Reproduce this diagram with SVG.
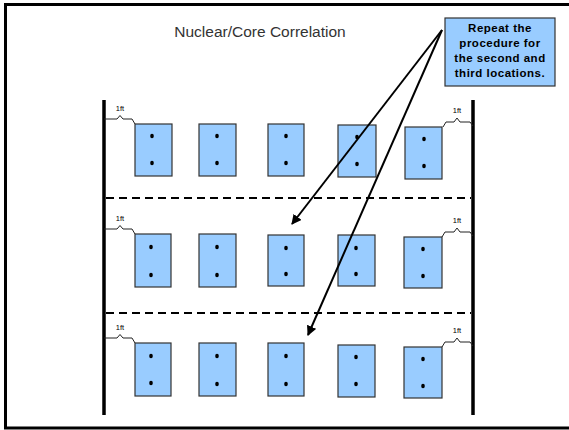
<svg xmlns="http://www.w3.org/2000/svg" width="569" height="430" viewBox="0 0 569 430">
<style>
.core{fill:#99CCFF;stroke:#333;stroke-width:1.2}
.dot{fill:#000}
.wall{stroke:#000;stroke-width:3.5;fill:none}
.dash{stroke:#000;stroke-width:2;stroke-dasharray:8 5;fill:none}
.br{stroke:#222;stroke-width:1;fill:none}
.ft{font-family:"Liberation Sans",Arial,sans-serif;font-size:7.5px;fill:#000;text-anchor:middle}
.title{font-family:"Liberation Sans",Arial,sans-serif;font-size:15.5px;fill:#333;text-anchor:middle}
.call{font-family:"Liberation Sans",Arial,sans-serif;font-size:11.5px;font-weight:bold;fill:#000;text-anchor:middle;letter-spacing:0.5px}
.arr{stroke:#000;stroke-width:2;fill:none;marker-end:url(#ah)}
</style>
<defs>
<marker id="ah" viewBox="0 0 10 10" refX="9" refY="5" markerWidth="5" markerHeight="5" orient="auto" markerUnits="strokeWidth">
<path d="M0,0 L10,5 L0,10 z" fill="#000"/>
</marker>
</defs>
<rect x="0" y="0" width="569" height="430" fill="#fff"/>
<path d="M600,4.5 H5.5 V428 H600" fill="none" stroke="#000" stroke-width="3"/>
<text class="title" x="260" y="37">Nuclear/Core Correlation</text>
<g id="walls">
<line class="wall" x1="104" y1="100" x2="104" y2="415"/>
<line class="wall" x1="473" y1="100" x2="473" y2="415"/>
<line class="dash" x1="106" y1="198" x2="471" y2="198"/>
<line class="dash" x1="106" y1="313" x2="471" y2="313"/>
</g>
<g id="row1">
<rect class="core" x="135" y="124" width="37" height="52"/>
<rect class="core" x="199" y="124" width="37" height="52"/>
<rect class="core" x="268" y="124" width="36" height="52"/>
<rect class="core" x="338" y="125" width="38" height="52"/>
<rect class="core" x="405" y="127" width="37" height="52"/>
<ellipse class="dot" cx="152" cy="136" rx="1.8" ry="2.2"/><ellipse class="dot" cx="152" cy="163" rx="1.8" ry="2.2"/>
<ellipse class="dot" cx="217" cy="136" rx="1.8" ry="2.2"/><ellipse class="dot" cx="217" cy="163" rx="1.8" ry="2.2"/>
<ellipse class="dot" cx="286" cy="136" rx="1.8" ry="2.2"/><ellipse class="dot" cx="286" cy="163" rx="1.8" ry="2.2"/>
<ellipse class="dot" cx="357" cy="137" rx="1.8" ry="2.2"/><ellipse class="dot" cx="357" cy="164" rx="1.8" ry="2.2"/>
<ellipse class="dot" cx="424" cy="139" rx="1.8" ry="2.2"/><ellipse class="dot" cx="424" cy="166" rx="1.8" ry="2.2"/>
<path class="br" d="M104,119 H117 L120,115.5 L123,119 H132 L135,124"/>
<path class="br" d="M443,127 L446,122 H454 L457,118 L460,122 H470 L473,126"/>
<text class="ft" x="120" y="111">1ft</text>
<text class="ft" x="457" y="113">1ft</text>
</g>
<g id="row2">
<rect class="core" x="135" y="234" width="36" height="53"/>
<rect class="core" x="199" y="234" width="37" height="53"/>
<rect class="core" x="268" y="235" width="36" height="51"/>
<rect class="core" x="338" y="235" width="37" height="51"/>
<rect class="core" x="404" y="237" width="38" height="51"/>
<ellipse class="dot" cx="151" cy="247" rx="1.8" ry="2.2"/><ellipse class="dot" cx="151" cy="275" rx="1.8" ry="2.2"/>
<ellipse class="dot" cx="217" cy="247" rx="1.8" ry="2.2"/><ellipse class="dot" cx="217" cy="275" rx="1.8" ry="2.2"/>
<ellipse class="dot" cx="286" cy="248" rx="1.8" ry="2.2"/><ellipse class="dot" cx="286" cy="274" rx="1.8" ry="2.2"/>
<ellipse class="dot" cx="356" cy="248" rx="1.8" ry="2.2"/><ellipse class="dot" cx="356" cy="274" rx="1.8" ry="2.2"/>
<ellipse class="dot" cx="423" cy="249" rx="1.8" ry="2.2"/><ellipse class="dot" cx="423" cy="276" rx="1.8" ry="2.2"/>
<path class="br" d="M104,229 H117 L120,225.5 L123,229 H132 L135,234"/>
<path class="br" d="M442,237 L445,232 H454 L457,228 L460,232 H470 L473,236"/>
<text class="ft" x="120" y="221">1ft</text>
<text class="ft" x="457" y="223">1ft</text>
</g>
<g id="row3">
<rect class="core" x="135" y="343" width="36" height="53"/>
<rect class="core" x="199" y="343" width="37" height="53"/>
<rect class="core" x="268" y="343" width="36" height="53"/>
<rect class="core" x="338" y="345" width="37" height="52"/>
<rect class="core" x="404" y="347" width="38" height="51"/>
<ellipse class="dot" cx="151" cy="356" rx="1.8" ry="2.2"/><ellipse class="dot" cx="151" cy="383" rx="1.8" ry="2.2"/>
<ellipse class="dot" cx="217" cy="356" rx="1.8" ry="2.2"/><ellipse class="dot" cx="217" cy="384" rx="1.8" ry="2.2"/>
<ellipse class="dot" cx="286" cy="356" rx="1.8" ry="2.2"/><ellipse class="dot" cx="286" cy="384" rx="1.8" ry="2.2"/>
<ellipse class="dot" cx="356" cy="357" rx="1.8" ry="2.2"/><ellipse class="dot" cx="356" cy="384" rx="1.8" ry="2.2"/>
<ellipse class="dot" cx="423" cy="359" rx="1.8" ry="2.2"/><ellipse class="dot" cx="423" cy="386" rx="1.8" ry="2.2"/>
<path class="br" d="M104,338 H117 L120,334.5 L123,338 H132 L135,343"/>
<path class="br" d="M442,347 L445,342 H454 L457,338 L460,342 H470 L473,346"/>
<text class="ft" x="120" y="330">1ft</text>
<text class="ft" x="457" y="333">1ft</text>
</g>
<g id="callout">
<rect x="445" y="18" width="110" height="68" fill="#99CCFF" stroke="#333" stroke-width="1.2"/>
<text class="call" x="500" y="32">Repeat the</text>
<text class="call" x="500" y="47">procedure for</text>
<text class="call" x="500" y="62">the second and</text>
<text class="call" x="500" y="77">third locations.</text>
</g>
<g id="connectors">
<line class="arr" x1="442" y1="30" x2="292" y2="224"/>
<line class="arr" x1="442" y1="30" x2="308" y2="335"/>
</g>
</svg>
